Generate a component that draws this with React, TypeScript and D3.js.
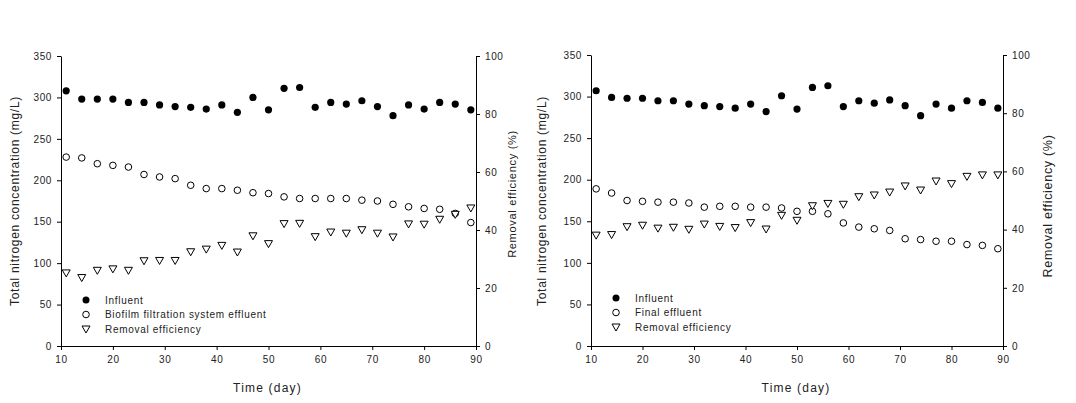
import { useEffect, useRef } from "react";
import * as d3 from "d3";

// sampling days (both panels)
const days = [11, 14, 17, 20, 23, 26, 29, 32, 35, 38, 41, 44, 47, 50, 53, 56, 59, 62, 65, 68, 71, 74, 77, 80, 83, 86, 89];

// left panel
const influentA = [308, 298, 298, 298, 294, 294, 291, 289, 288, 286, 291, 282, 300, 285, 311, 312, 288, 294, 292, 296, 289, 278, 291, 286, 294, 292, 285];
const effluentA = [228, 227, 220, 218, 216, 207, 204, 202, 194, 190, 190, 188, 185, 184, 180, 178, 178, 178, 178, 176, 175, 171, 168, 166, 165, 160, 149];
const removalA = [25.2, 23.6, 26.1, 26.6, 26.1, 29.4, 29.5, 29.5, 32.5, 33.4, 34.7, 32.4, 38.0, 35.3, 42.2, 42.3, 37.7, 39.3, 38.9, 40.1, 38.9, 37.6, 42.1, 42.0, 43.7, 45.4, 47.6];

// right panel
const influentB = [307, 299, 298, 298, 295, 295, 291, 289, 288, 286, 291, 282, 301, 285, 311, 313, 288, 295, 292, 296, 289, 277, 291, 286, 295, 293, 286];
const effluentB = [189, 184, 175, 174, 173, 173, 172, 167, 168, 168, 167, 167, 166, 162, 162, 159, 148, 143, 141, 139, 129, 128, 126, 126, 122, 121, 117];
const removalB = [38.1, 38.3, 41.0, 41.5, 40.5, 40.8, 40.1, 41.9, 41.1, 40.7, 42.4, 40.2, 44.9, 43.2, 48.2, 49.0, 48.7, 51.3, 51.9, 52.9, 55.0, 53.6, 56.7, 55.8, 58.3, 58.8, 58.8];

const xTicks = [10, 20, 30, 40, 50, 60, 70, 80, 90];
const yTicks = [0, 50, 100, 150, 200, 250, 300, 350];
const y2Ticks = [0, 20, 40, 60, 80, 100];

const FONT = "Arial, 'Liberation Sans', sans-serif";
const TXT = "#222";
const TRI = "M-4,-3L4,-3L0,4Z";

type PanelProps = {
  x0: number;
  x1: number;
  top: number;
  bottom: number;
  influent: number[];
  effluent: number[];
  removal: number[];
  effluentLabel: string;
  leftTitleX: number;
  rightTitleX: number;
  rightTitleY: number;
  rightTitleSize: number;
  legendX: number;
  legendY: number;
};

function Panel(p: PanelProps) {
  const ref = useRef<SVGGElement>(null);

  useEffect(() => {
    const g = d3.select(ref.current);
    g.selectAll("*").remove();

    const x = d3.scaleLinear().domain([10, 90]).range([p.x0, p.x1]);
    const y = d3.scaleLinear().domain([0, 350]).range([p.bottom, p.top]);
    const y2 = d3.scaleLinear().domain([0, 100]).range([p.bottom, p.top]);

    const styleAxis = (sel: any) => {
      sel.select(".domain").attr("stroke", "#000");
      sel.selectAll(".tick line").attr("stroke", "#000");
      sel.selectAll(".tick text")
        .attr("fill", TXT)
        .style("font-family", FONT)
        .style("font-size", "10px")
        .style("letter-spacing", "0.6px");
    };

    g.append("g")
      .attr("transform", `translate(0,${p.bottom})`)
      .call(d3.axisBottom(x).tickValues(xTicks).tickSize(4).tickSizeOuter(0).tickPadding(6))
      .call(styleAxis);

    g.append("g")
      .attr("transform", `translate(${p.x0},0)`)
      .call(d3.axisLeft(y).tickValues(yTicks).tickSize(4).tickSizeOuter(0).tickPadding(5))
      .call(styleAxis);

    g.append("g")
      .attr("transform", `translate(${p.x1},0)`)
      .call(d3.axisRight(y2).tickValues(y2Ticks).tickSize(4).tickSizeOuter(0).tickPadding(5))
      .call(styleAxis);

    // titles
    g.append("text")
      .attr("transform", `translate(${p.leftTitleX},201) rotate(-90)`)
      .attr("text-anchor", "middle")
      .attr("dy", "0.35em")
      .attr("fill", TXT)
      .style("font-family", FONT)
      .style("font-size", "12px")
      .style("letter-spacing", "0.7px")
      .text("Total nitrogen concentration (mg/L)");

    g.append("text")
      .attr("transform", `translate(${p.rightTitleX},${p.rightTitleY}) rotate(-90)`)
      .attr("text-anchor", "middle")
      .attr("dy", "0.35em")
      .attr("fill", TXT)
      .style("font-family", FONT)
      .style("font-size", `${p.rightTitleSize}px`)
      .style("letter-spacing", "0.7px")
      .text("Removal efficiency (%)");

    g.append("text")
      .attr("x", (p.x0 + p.x1) / 2 - 1)
      .attr("y", p.bottom + 46)
      .attr("text-anchor", "middle")
      .attr("fill", TXT)
      .style("font-family", FONT)
      .style("font-size", "12px")
      .style("letter-spacing", "1.2px")
      .text("Time (day)");

    // series
    g.append("g")
      .selectAll("circle")
      .data(days)
      .join("circle")
      .attr("cx", (d) => x(d))
      .attr("cy", (_d, i) => y(p.effluent[i]))
      .attr("r", 3.3)
      .attr("fill", "#fff")
      .attr("stroke", "#000")
      .attr("stroke-width", 1);

    g.append("g")
      .selectAll("path")
      .data(days)
      .join("path")
      .attr("transform", (d, i) => `translate(${x(d)},${y2(p.removal[i])})`)
      .attr("d", TRI)
      .attr("fill", "#fff")
      .attr("stroke", "#000")
      .attr("stroke-width", 1);

    g.append("g")
      .selectAll("circle")
      .data(days)
      .join("circle")
      .attr("cx", (d) => x(d))
      .attr("cy", (_d, i) => y(p.influent[i]))
      .attr("r", 3.6)
      .attr("fill", "#000");

    // legend
    const items = [
      { label: "Influent", kind: "filled" },
      { label: p.effluentLabel, kind: "open" },
      { label: "Removal efficiency", kind: "tri" },
    ];
    const lg = g.append("g").attr("transform", `translate(${p.legendX},${p.legendY})`);
    items.forEach((it, i) => {
      const row = lg.append("g").attr("transform", `translate(0,${i * 14.5})`);
      if (it.kind === "filled") row.append("circle").attr("r", 3.5).attr("fill", "#000");
      else if (it.kind === "open")
        row.append("circle").attr("r", 3.3).attr("fill", "#fff").attr("stroke", "#000");
      else row.append("path").attr("d", TRI).attr("fill", "#fff").attr("stroke", "#000");
      row.append("text")
        .attr("x", 19)
        .attr("dy", "0.35em")
        .attr("fill", TXT)
        .style("font-family", FONT)
        .style("font-size", "10px")
        .style("letter-spacing", "0.7px")
        .text(it.label);
    });
  }, [p]);

  return <g ref={ref} />;
}

export default function App() {
  return (
    <svg
      width={1076}
      height={403}
      style={{ position: "absolute", left: 0, top: 0, background: "#fff" }}
    >
      <Panel
        x0={61}
        x1={476}
        top={56}
        bottom={346}
        influent={influentA}
        effluent={effluentA}
        removal={removalA}
        effluentLabel="Biofilm filtration system effluent"
        leftTitleX={15}
        rightTitleX={512}
        rightTitleY={194}
        rightTitleSize={11}
        legendX={86}
        legendY={300}
      />
      <Panel
        x0={591}
        x1={1003}
        top={55}
        bottom={346}
        influent={influentB}
        effluent={effluentB}
        removal={removalB}
        effluentLabel="Final effluent"
        leftTitleX={542}
        rightTitleX={1048}
        rightTitleY={206}
        rightTitleSize={12.5}
        legendX={616}
        legendY={298}
      />
    </svg>
  );
}
